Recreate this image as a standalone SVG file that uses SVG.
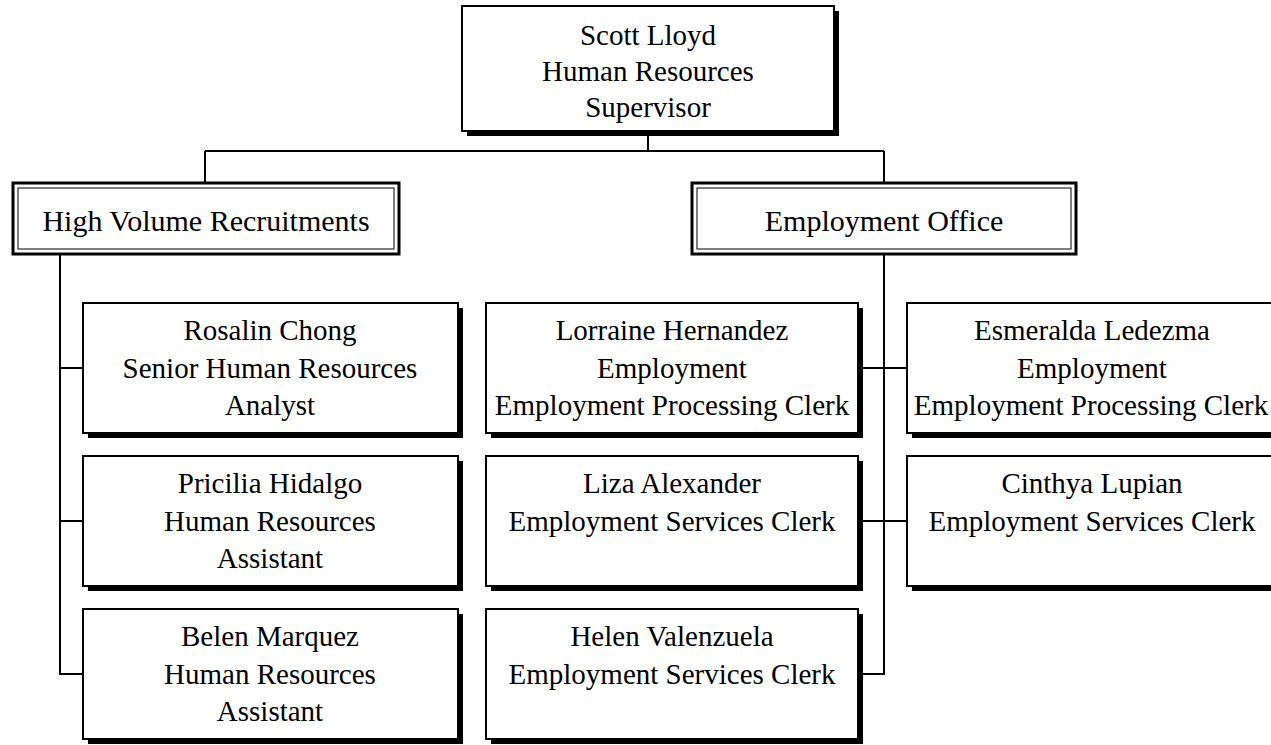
<svg xmlns="http://www.w3.org/2000/svg" width="1271" height="745" viewBox="0 0 1271 745">
<style>
.sh{fill:#000}
.bx{fill:#fff;stroke:#000;stroke-width:2}
.ob{fill:#fff;stroke:#000;stroke-width:3}
.ib{fill:none;stroke:#000;stroke-width:1}
.ln{fill:none;stroke:#000;stroke-width:2}
text{font-family:"Liberation Serif","Times New Roman",serif;font-size:29px;fill:#000;text-anchor:middle}
.hd{font-size:30px}
</style>
<rect width="1271" height="745" fill="#fff"/>
<g id="connectors">
<path class="ln" d="M648 136V151M205 151H884M205 151V183M884 151V183"/>
<path class="ln" d="M60 254V674H83M60 368H83M60 521H83"/>
<path class="ln" d="M884 254V674H858M863 368H907M863 521H907"/>
</g>
<g id="scott">
<rect class="sh" x="467" y="11" width="372" height="125"/>
<rect class="bx" x="462" y="6" width="372" height="125"/>
<text x="648" y="45">Scott Lloyd</text>
<text x="648" y="81">Human Resources</text>
<text x="648" y="117">Supervisor</text>
</g>
<g id="hvr">
<rect class="ob" x="13" y="183" width="386" height="71"/>
<rect class="ib" x="18" y="188" width="376" height="61"/>
<text class="hd" x="206" y="231">High Volume Recruitments</text>
</g>
<g id="eo">
<rect class="ob" x="692" y="183" width="384" height="71"/>
<rect class="ib" x="697" y="188" width="374" height="61"/>
<text class="hd" x="884" y="231">Employment Office</text>
</g>
<g id="rosalin">
<rect class="sh" x="88" y="308" width="375" height="130"/>
<rect class="bx" x="83" y="303" width="375" height="130"/>
<text x="270" y="340">Rosalin Chong</text>
<text x="270" y="378">Senior Human Resources</text>
<text x="270" y="415">Analyst</text>
</g>
<g id="pricilia">
<rect class="sh" x="88" y="461" width="375" height="130"/>
<rect class="bx" x="83" y="456" width="375" height="130"/>
<text x="270" y="493">Pricilia Hidalgo</text>
<text x="270" y="531">Human Resources</text>
<text x="270" y="568">Assistant</text>
</g>
<g id="belen">
<rect class="sh" x="88" y="614" width="375" height="130"/>
<rect class="bx" x="83" y="609" width="375" height="130"/>
<text x="270" y="646">Belen Marquez</text>
<text x="270" y="684">Human Resources</text>
<text x="270" y="721">Assistant</text>
</g>
<g id="lorraine">
<rect class="sh" x="491" y="308" width="372" height="130"/>
<rect class="bx" x="486" y="303" width="372" height="130"/>
<text x="672" y="340">Lorraine Hernandez</text>
<text x="672" y="378">Employment</text>
<text x="672" y="415">Employment Processing Clerk</text>
</g>
<g id="liza">
<rect class="sh" x="491" y="461" width="372" height="130"/>
<rect class="bx" x="486" y="456" width="372" height="130"/>
<text x="672" y="493">Liza Alexander</text>
<text x="672" y="531">Employment Services Clerk</text>
</g>
<g id="helen">
<rect class="sh" x="491" y="614" width="372" height="130"/>
<rect class="bx" x="486" y="609" width="372" height="130"/>
<text x="672" y="646">Helen Valenzuela</text>
<text x="672" y="684">Employment Services Clerk</text>
</g>
<g id="esmeralda">
<rect class="sh" x="912" y="308" width="375" height="130"/>
<rect class="bx" x="907" y="303" width="375" height="130"/>
<text x="1092" y="340">Esmeralda Ledezma</text>
<text x="1092" y="378">Employment</text>
<text x="1091" y="415">Employment Processing Clerk</text>
</g>
<g id="cinthya">
<rect class="sh" x="912" y="461" width="375" height="130"/>
<rect class="bx" x="907" y="456" width="375" height="130"/>
<text x="1092" y="493">Cinthya Lupian</text>
<text x="1092" y="531">Employment Services Clerk</text>
</g>
</svg>
